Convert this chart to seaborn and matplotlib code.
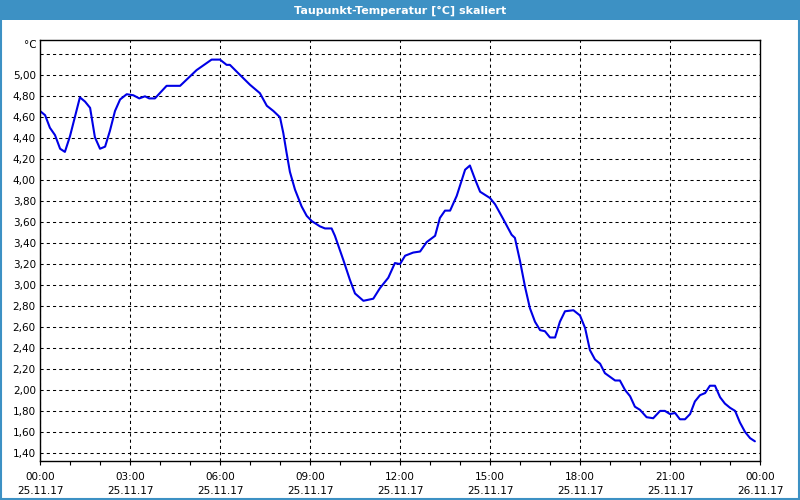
import matplotlib
matplotlib.use("Agg")
import matplotlib.pyplot as plt
import seaborn as sns
import pandas as pd
from matplotlib.patches import Rectangle

# Data (hours since 25.11.17 00:00, dew point in °C)
hours = [0.0, 0.17, 0.33, 0.5, 0.67, 0.83, 1.0, 1.33, 1.5, 1.67, 1.83, 2.0, 2.17, 2.33,
         2.5, 2.67, 2.89, 3.11, 3.31, 3.5, 3.64, 3.83, 4.22, 4.67, 5.22, 5.72, 6.0,
         6.22, 6.33, 6.61, 7.0, 7.33, 7.56, 7.78, 8.0, 8.11, 8.22, 8.33, 8.5, 8.72,
         8.89, 9.06, 9.33, 9.5, 9.72, 9.83, 10.11, 10.33, 10.5, 10.78, 11.11, 11.33,
         11.61, 11.83, 12.0, 12.17, 12.44, 12.67, 12.89, 13.17, 13.33, 13.5, 13.67,
         13.89, 14.17, 14.33, 14.5, 14.67, 15.0, 15.17, 15.44, 15.72, 15.83, 16.0,
         16.17, 16.33, 16.5, 16.67, 16.83, 17.0, 17.17, 17.33, 17.5, 17.78, 18.0,
         18.17, 18.33, 18.5, 18.67, 18.83, 19.17, 19.33, 19.5, 19.67, 19.83, 20.0,
         20.22, 20.44, 20.67, 20.83, 21.0, 21.17, 21.33, 21.5, 21.67, 21.83, 22.0,
         22.17, 22.33, 22.5, 22.67, 22.83, 23.0, 23.17, 23.33, 23.5, 23.67, 23.83]
dewpoint = [4.66, 4.62, 4.50, 4.43, 4.30, 4.27, 4.42, 4.79, 4.75, 4.69, 4.41, 4.30, 4.32, 4.47,
            4.66, 4.77, 4.82, 4.81, 4.78, 4.80, 4.78, 4.78, 4.90, 4.90, 5.05, 5.15, 5.15,
            5.10, 5.10, 5.02, 4.91, 4.83, 4.71, 4.66, 4.60, 4.45, 4.26, 4.08, 3.91, 3.75,
            3.66, 3.61, 3.56, 3.54, 3.54, 3.47, 3.24, 3.05, 2.92, 2.85, 2.87, 2.97,
            3.07, 3.21, 3.20, 3.28, 3.31, 3.32, 3.41, 3.47, 3.64, 3.71, 3.71,
            3.85, 4.10, 4.14, 4.01, 3.89, 3.83, 3.77, 3.63, 3.48, 3.45, 3.23,
            2.98, 2.78, 2.65, 2.57, 2.56, 2.50, 2.50, 2.65, 2.75, 2.76, 2.71,
            2.59, 2.38, 2.29, 2.25, 2.16, 2.09, 2.09, 2.00, 1.94, 1.84, 1.81,
            1.74, 1.73, 1.80, 1.80, 1.77, 1.78, 1.72, 1.72, 1.77, 1.89, 1.95,
            1.97, 2.04, 2.04, 1.93, 1.87, 1.83, 1.80, 1.69, 1.60, 1.54, 1.51]

x_tick_pos = [0, 3, 6, 9, 12, 15, 18, 21, 24]
x_tick_labels = ["00:00\n25.11.17", "03:00\n25.11.17", "06:00\n25.11.17", "09:00\n25.11.17",
                 "12:00\n25.11.17", "15:00\n25.11.17", "18:00\n25.11.17", "21:00\n25.11.17",
                 "00:00\n26.11.17"]
y_ticks = [1.40, 1.60, 1.80, 2.00, 2.20, 2.40, 2.60, 2.80, 3.00, 3.20, 3.40, 3.60,
           3.80, 4.00, 4.20, 4.40, 4.60, 4.80, 5.00, 5.20]
title = "Taupunkt-Temperatur [°C] skaliert"

sns.set_style("white")
plt.rcParams["font.family"] = ["DejaVu Sans"]
plt.rcParams["text.color"] = "black"
plt.rcParams["xtick.color"] = "black"
plt.rcParams["ytick.color"] = "black"

df = pd.DataFrame({"hour": hours, "value": dewpoint})

fig = plt.figure(figsize=(8, 5), dpi=100)
fig.patch.set_facecolor("white")

# Title bar and border
bar_color = "#3d91c4"
fig.add_artist(Rectangle((0, 0.96), 1, 0.04, transform=fig.transFigure,
                         facecolor=bar_color, edgecolor="none", zorder=0))
fig.add_artist(Rectangle((0.001, 0.002), 0.998, 0.997, transform=fig.transFigure,
                         facecolor="none", edgecolor=bar_color, linewidth=1.5, zorder=0))
fig.text(0.5, 0.979, title, color="white", fontsize=8, fontweight="bold",
         ha="center", va="center")

ax = fig.add_axes([40 / 800, 39.5 / 500, 720 / 800, 420.5 / 500])
ax.set_facecolor("white")

sns.lineplot(data=df, x="hour", y="value", ax=ax, color="#0000e6", linewidth=1.5)

ax.set_xlim(0, 24)
ax.set_ylim(1.327, 5.337)

ax.set_xticks(x_tick_pos)
ax.set_xticklabels(x_tick_labels, fontsize=7.5, linespacing=1.6, color="black")
ax.set_xticks(list(range(0, 25)), minor=True)
ax.tick_params(axis="x", which="both", direction="out", length=3, width=0.8,
               color="black", pad=5, bottom=True)

ax.set_yticks(y_ticks)
ax.set_yticklabels([("%.2f" % v).replace(".", ",") if v < 5.1 else "" for v in y_ticks],
                   fontsize=7.5, color="black")
ax.tick_params(axis="y", which="both", length=0, pad=3, left=True)

ax.grid(True, which="major", color="black", linestyle=(0, (3, 3)), linewidth=0.75)
ax.set_axisbelow(True)

for s in ax.spines.values():
    s.set_visible(True)
    s.set_color("black")
    s.set_linewidth(1.0)

ax.set_xlabel("")
ax.set_ylabel("")
fig.text(30 / 800, 1 - 45 / 500, "°C", fontsize=7.5, ha="center", va="center", color="black")

fig.savefig("out.png", dpi=100, facecolor=fig.get_facecolor())
